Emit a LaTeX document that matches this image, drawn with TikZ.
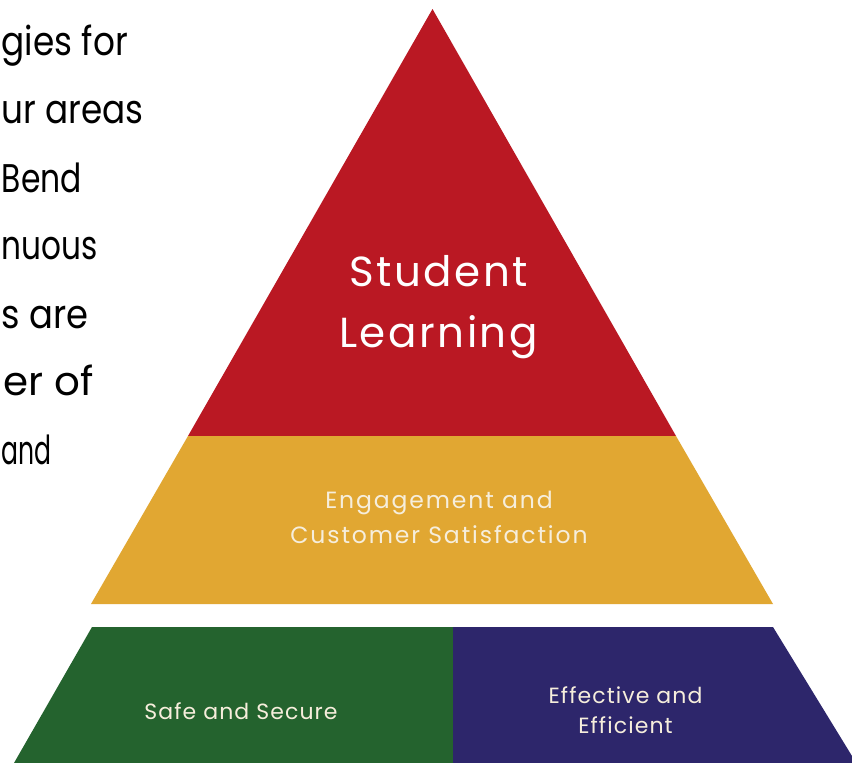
\documentclass[tikz,border=0pt]{standalone}
\usepackage{fontspec}
\usepackage{graphicx}
\setmainfont{Poppins}
\newfontfamily\spacedA[LetterSpace=6]{Poppins}
\newfontfamily\spacedB[LetterSpace=8]{Poppins}
\newfontfamily\spacedC[LetterSpace=5]{Poppins}
\definecolor{pyrred}{HTML}{BA1823}
\definecolor{pyryellow}{HTML}{E1A732}
\definecolor{pyrgreen}{HTML}{24632E}
\definecolor{pyrpurple}{HTML}{2D266B}
\definecolor{labelcream}{HTML}{F6EEDC}
\newcommand{\fitto}[2]{\resizebox{#1}{\height}{#2}}
\tikzset{
  bodytext/.style={anchor=base east, inner sep=0pt, font=\fontsize{40}{48}\selectfont, text=black},
  toplabel/.style={align=center, inner sep=0pt, text=white, font=\spacedA\fontsize{42}{61}\selectfont},
  midlabel/.style={align=center, inner sep=0pt, text=labelcream, font=\spacedB\fontsize{23.5}{35}\selectfont},
  lowlabel/.style={align=center, inner sep=0pt, text=labelcream, font=\spacedC\fontsize{22}{30}\selectfont},
}
\begin{document}
\begin{tikzpicture}[x=1pt,y=-1pt]
\useasboundingbox (0,0) rectangle (852,763);
\fill[white] (0,0) rectangle (852,763);
% pyramid layers
\fill[pyrred] (432.5,9) -- (676,436) -- (188,436) -- cycle;
\fill[pyryellow] (188,436) -- (676,436) -- (773,604) -- (91,604) -- cycle;
\fill[pyrgreen] (92,627) -- (453,627) -- (453,763) -- (14,763) -- cycle;
\fill[pyrpurple] (453,627) -- (773,627) -- (852,756) -- (852,763) -- (453,763) -- cycle;
% left text fragments
\node[bodytext] (t1) at (128,55) {\fitto{126pt}{gies for}};
\node[bodytext] (t2) at (144,123) {\fitto{142pt}{ur areas}};
\node[bodytext] (t3) at (82,192) {\fitto{80pt}{Bend}};
\node[bodytext] (t4) at (98,259) {\fitto{96pt}{nuous}};
\node[bodytext] (t5) at (89,328) {\fitto{87pt}{s are}};
\node[bodytext] (t6) at (94,395) {\fitto{90pt}{er of}};
\node[bodytext] (t7) at (52,464) {\fitto{50pt}{and}};
% labels
\node[toplabel] (sl) at (438.5,307) {Student\\Learning};
\node[midlabel] (ec) at (439,517) {Engagement and\\Customer Satisfaction};
\node[lowlabel] (ss) at (241,711) {Safe and Secure};
\node[lowlabel] (ee) at (625.5,710) {Effective and\\Efficient};
\end{tikzpicture}
\end{document}
